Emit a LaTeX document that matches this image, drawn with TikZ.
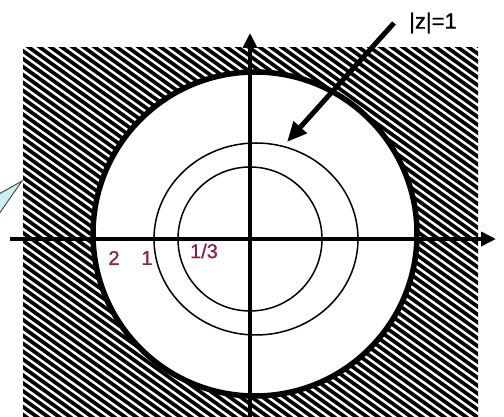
\documentclass[tikz,border=0pt]{standalone}
\usepackage{fontspec}
\setmainfont{Liberation Sans}
\newfontfamily\heavyish[FakeBold=0.9]{Liberation Sans}
\usetikzlibrary{arrows.meta}
\definecolor{lbl}{HTML}{8B1E4B}
\definecolor{callout}{HTML}{CDEFF3}
\tikzset{
  hatch/.style={line width=3.7pt,black},
  axis/.style={line width=3.6pt,-{Triangle[length=15pt,width=14pt]}},
  thin circ/.style={line width=1.5pt},
  big circ/.style={line width=5.5pt},
  lab/.style={text=lbl,font=\heavyish\fontsize{20}{20}\selectfont,inner sep=0pt}
}
\begin{document}
\begin{tikzpicture}[x=1pt,y=1pt]
\useasboundingbox (0,0) rectangle (504,417);
% hatched square
\begin{scope}
  \clip (23,0) rectangle (478,369);
  \foreach \i in {-60,...,50} {
    \draw[hatch] (\i*11,430) -- ++(640,-460);
  }
\end{scope}
% white disk and circles
\coordinate (O) at (250,178);
\coordinate (C) at (255,183);
\fill[white] (C) circle[radius=162];
\draw[big circ] (C) circle[radius=162];
\draw[thin circ] (256,178) ellipse[x radius=102,y radius=96];
\draw[thin circ] (O) circle[radius=72];
% axes
\coordinate (xl) at (10,178);
\coordinate (xr) at (496,178);
\coordinate (yb) at (250,0);
\coordinate (yt) at (250,384);
\draw[axis] (xl) -- (xr);
\draw[axis] (yb) -- (yt);
% labels
\node[lab] (l2) at (114,159) {2};
\node[lab] (l1) at (147,159) {1};
\node[lab] (l3) at (204,166) {1/3};
\node[font=\heavyish\fontsize{22}{22}\selectfont,inner sep=0pt] (z) at (433,394) {|z|=1};
% pointer arrow
\coordinate (as) at (394,394);
\coordinate (ae) at (287,275);
\draw[line width=5pt,-{Triangle[length=20pt,width=17pt]}] (as) -- (ae);
% callout at left
\coordinate (ct) at (22,236);
\filldraw[fill=callout,draw=black!70,line width=1pt] (ct) -- (-1,223) -- (-1,203) -- cycle;
\end{tikzpicture}
\end{document}
